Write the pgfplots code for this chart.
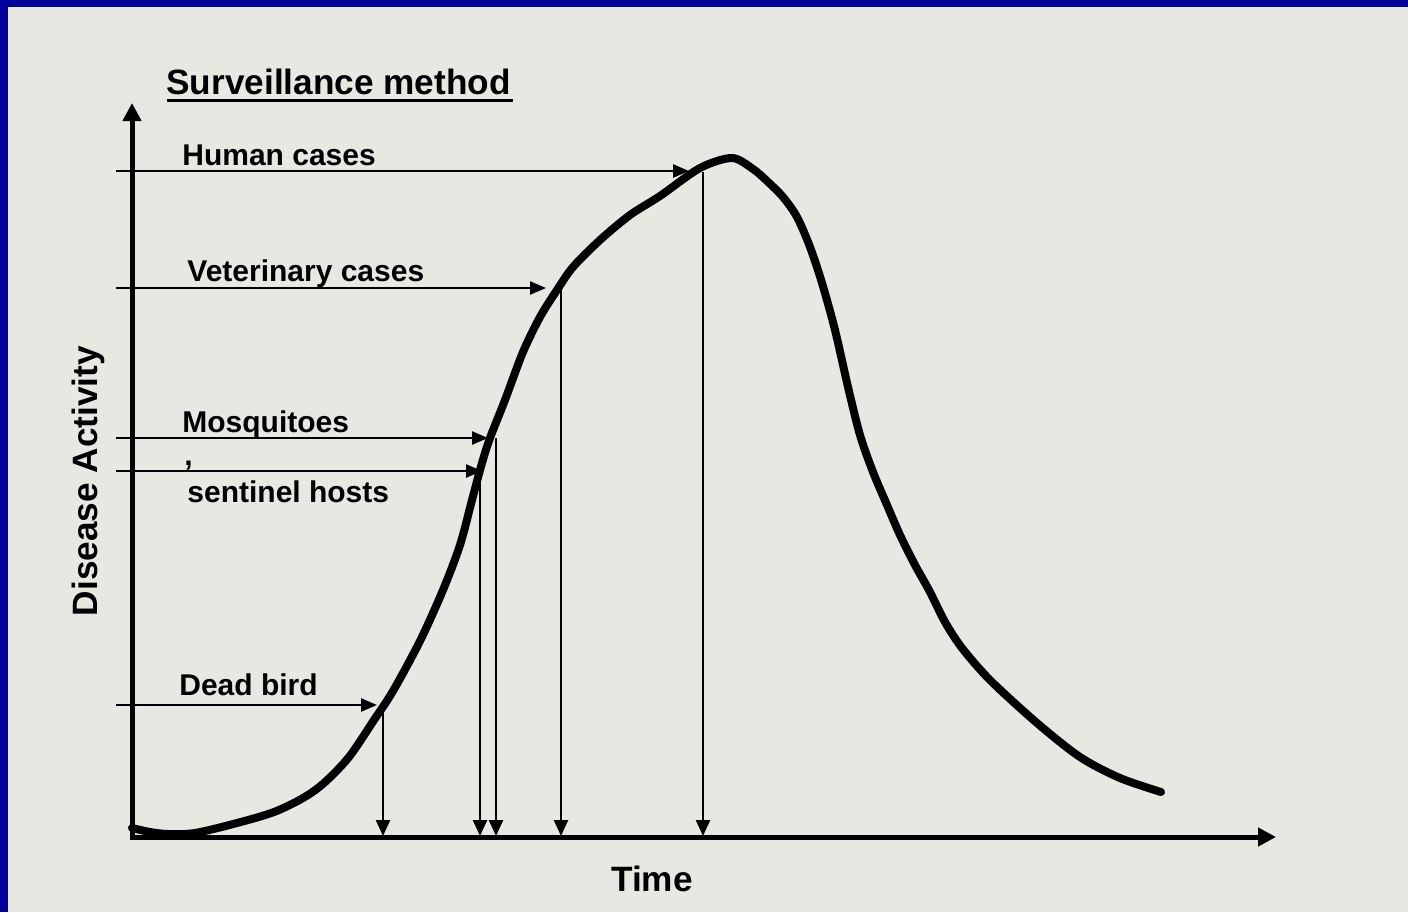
\documentclass[border=0pt]{standalone}
\usepackage{fontspec}
\setmainfont{Liberation Sans}
\usepackage{pgfplots}
\pgfplotsset{compat=1.18}
\usetikzlibrary{arrows.meta}
\definecolor{bg}{RGB}{232,232,226}
\definecolor{frame}{RGB}{0,0,156}
\begin{document}
\begin{tikzpicture}
\begin{axis}[
  width=704pt, height=456pt, scale only axis,
  xmin=0, xmax=1408, ymin=0, ymax=912, y dir=reverse,
  hide axis, clip=false,
]
\fill[bg] (axis cs:0,0) rectangle (axis cs:1408,912);
\fill[frame] (axis cs:0,0) rectangle (axis cs:1408,7);
\fill[frame] (axis cs:0,0) rectangle (axis cs:8,912);

% axes
\addplot[black, line width=2.5pt, -{Triangle[length=9pt,width=9pt]}] coordinates {(132,839) (132,103)};
\addplot[black, line width=2.5pt, -{Triangle[length=9pt,width=9pt]}] coordinates {(130,837) (1276,837)};

% epidemic curve
\addplot[black, line width=4pt, smooth, tension=0.5, line cap=round] coordinates {
(132,828) (150,832) (168,834) (195,833) (237,823) (274,812) (303,798) (324,783)
(349,757) (374,720) (393,691) (420,641) (443,590) (460,545) (472,500)
(482,463) (490,438) (505,400) (523,352) (540,317) (557,290)
(573,267) (600,240) (630,215) (660,196) (700,168) (732,158)
(753,169) (767,181) (783,197) (797,217) (810,247) (822,283) (835,330) (848,387)
(860,435) (873,472) (887,505) (900,535) (915,565) (930,592) (945,622)
(962,648) (990,680) (1037,723) (1080,757) (1120,778) (1161,792)};

% horizontal arrows (surveillance methods)
\addplot[black, line width=1.25pt, -{Triangle[length=8pt,width=6.5pt]}] coordinates {(116,171) (689,171)};
\addplot[black, line width=1.25pt, -{Triangle[length=8pt,width=6.5pt]}] coordinates {(116,288) (546,288)};
\addplot[black, line width=1.25pt, -{Triangle[length=8pt,width=6.5pt]}] coordinates {(116,438) (488,438)};
\addplot[black, line width=1.25pt, -{Triangle[length=8pt,width=6.5pt]}] coordinates {(116,471) (482,471)};
\addplot[black, line width=1.25pt, -{Triangle[length=8pt,width=6.5pt]}] coordinates {(116,705) (377,705)};

% vertical arrows down to time axis
\addplot[black, line width=1.25pt, -{Triangle[length=8pt,width=7pt]}] coordinates {(383,705) (383,836)};
\addplot[black, line width=1.25pt, -{Triangle[length=8pt,width=7pt]}] coordinates {(480,483) (480,836)};
\addplot[black, line width=1.25pt, -{Triangle[length=8pt,width=7pt]}] coordinates {(496,438) (496,836)};
\addplot[black, line width=1.25pt, -{Triangle[length=8pt,width=7pt]}] coordinates {(561,289) (561,836)};
\addplot[black, line width=1.25pt, -{Triangle[length=8pt,width=7pt]}] coordinates {(703,172) (703,836)};

% texts
\node[anchor=base west, inner sep=0pt, font=\fontsize{17.6}{20}\selectfont\bfseries] at (axis cs:166,94) {Surveillance method};
\draw[black, line width=1.5pt] (axis cs:167,100) -- (axis cs:513,100);
\node[anchor=base west, inner sep=0pt, font=\fontsize{15}{18}\selectfont\bfseries] at (axis cs:182,165) {Human cases};
\node[anchor=base west, inner sep=0pt, font=\fontsize{15}{18}\selectfont\bfseries] at (axis cs:187,281) {Veterinary cases};
\node[anchor=base west, inner sep=0pt, font=\fontsize{15}{18}\selectfont\bfseries] at (axis cs:182,432) {Mosquitoes};
\node[anchor=base west, inner sep=0pt, font=\fontsize{15}{18}\selectfont\bfseries] at (axis cs:184,465) {,};
\node[anchor=base west, inner sep=0pt, font=\fontsize{15}{18}\selectfont\bfseries] at (axis cs:187,502) {sentinel hosts};
\node[anchor=base west, inner sep=0pt, font=\fontsize{15}{18}\selectfont\bfseries] at (axis cs:179,695) {Dead bird};
\node[anchor=base, inner sep=0pt, font=\fontsize{17.6}{20}\selectfont\bfseries] at (axis cs:652,891) {Time};
\node[anchor=base, rotate=90, inner sep=0pt, font=\fontsize{17.6}{20}\selectfont\bfseries] at (axis cs:97,481) {Disease Activity};
\end{axis}
\end{tikzpicture}
\end{document}
